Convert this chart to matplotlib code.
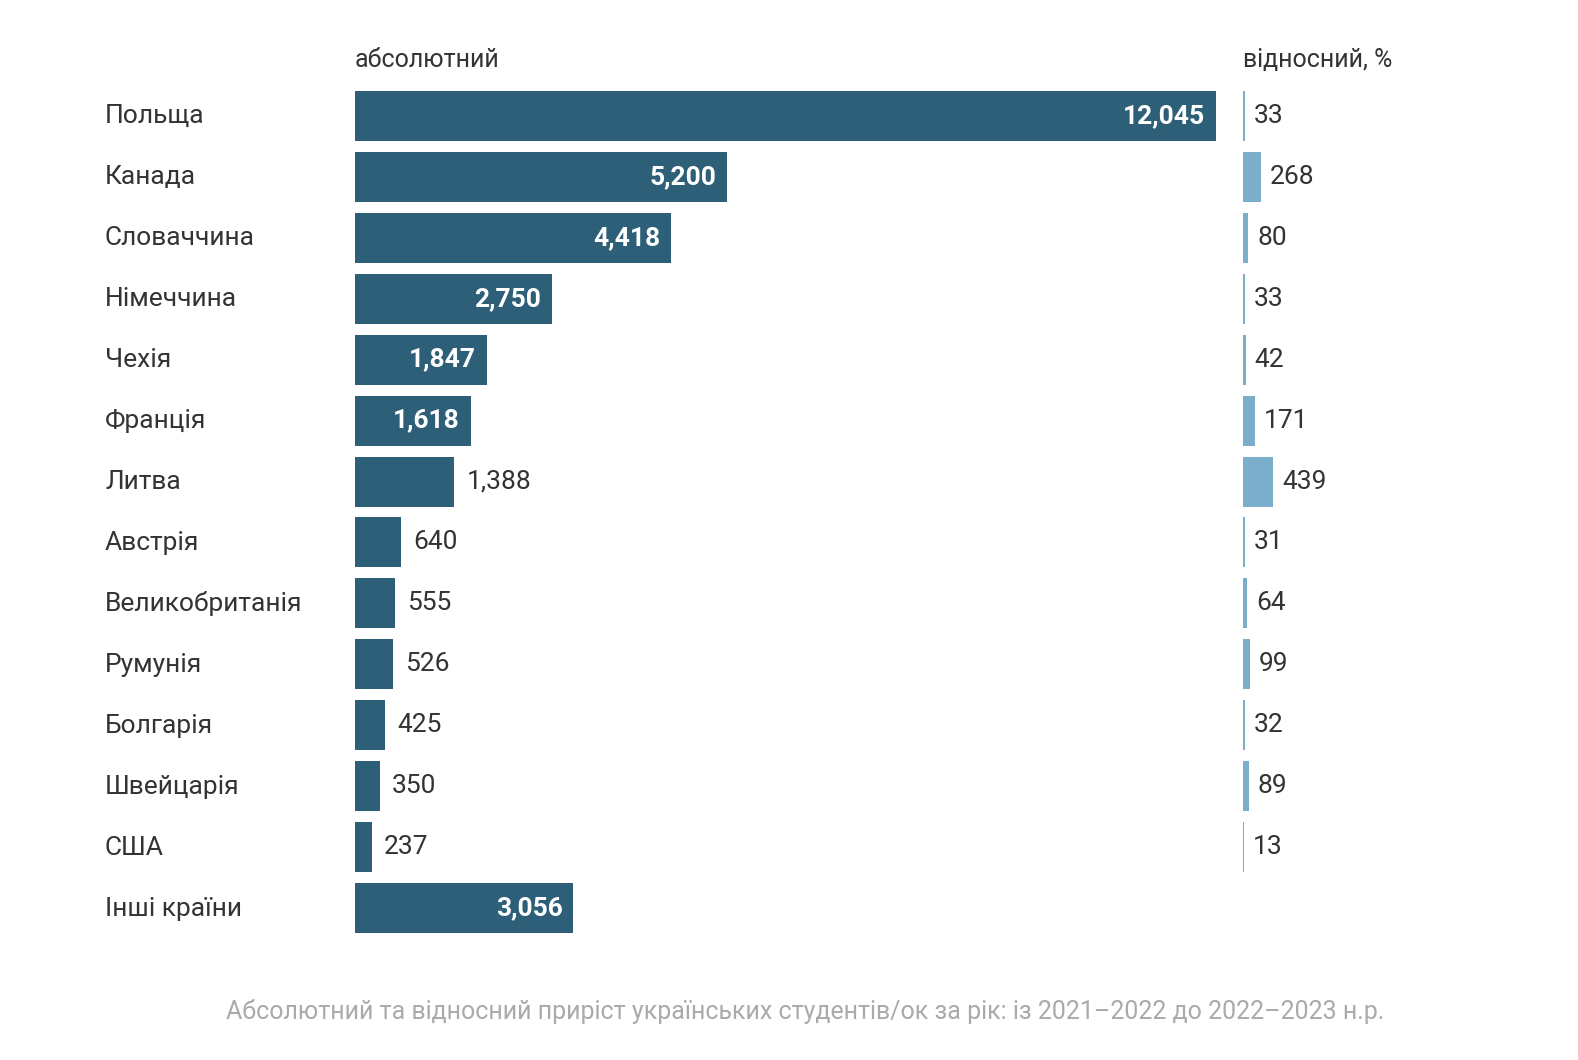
import matplotlib
matplotlib.use("Agg")
import matplotlib.pyplot as plt

countries = ["Польща","Канада","Словаччина","Німеччина","Чехія","Франція","Литва",
             "Австрія","Великобританія","Румунія","Болгарія","Швейцарія","США","Інші країни"]
absolute = [12045,5200,4418,2750,1847,1618,1388,640,555,526,425,350,237,3056]
relative = [33,268,80,33,42,171,439,31,64,99,32,89,13,None]

dark = "#2d5f78"; light = "#7aaecb"; txt = "#333333"
plt.rcParams["font.family"] = "Roboto"
W, H = 1578, 1060
fig = plt.figure(figsize=(W/100, H/100), dpi=100)
bottom = 1-938.5/H; height = 853/H
ax = fig.add_axes([355/W, bottom, 861/W, height])
ax2 = fig.add_axes([1243/W, bottom, 300/W, height])
y = list(range(len(countries)))
ax.barh(y, absolute, height=0.82, color=dark)
ax.set_xlim(0, 12045); ax.set_ylim(13.5, -0.5)
for i, v in enumerate(absolute):
    s = f"{v:,}"
    if v >= 1500:
        ax.text(v-150, i, s, ha="right", va="center", color="white", fontsize=19, fontweight="bold")
    else:
        ax.text(v+170, i, s, ha="left", va="center", color=txt, fontsize=19)
    fig.text(105/W, 1-(116+61*i)/H - 0.0, countries[i], ha="left", va="center", color=txt, fontsize=19)
ry = [i for i, r in enumerate(relative) if r is not None]
rv = [relative[i] for i in ry]
ax2.barh(ry, rv, height=0.82, color=light)
ax2.set_xlim(0, 4390); ax2.set_ylim(13.5, -0.5)
for i, r in zip(ry, rv):
    ax2.text(r+130, i, str(r), ha="left", va="center", color=txt, fontsize=19)
for a in (ax, ax2):
    a.axis("off")
fig.text(355/W, 1-60/H, "абсолютний", ha="left", va="center", color=txt, fontsize=18)
fig.text(1243/W, 1-60/H, "відносний, %", ha="left", va="center", color=txt, fontsize=18)
fig.text(805/W, 1-1012/H, "Абсолютний та відносний приріст українських студентів/ок за рік: із 2021–2022 до 2022–2023 н.р.",
         ha="center", va="center", color="#aaaaaa", fontsize=18)
fig.savefig("out.png", dpi=100, facecolor="white")
